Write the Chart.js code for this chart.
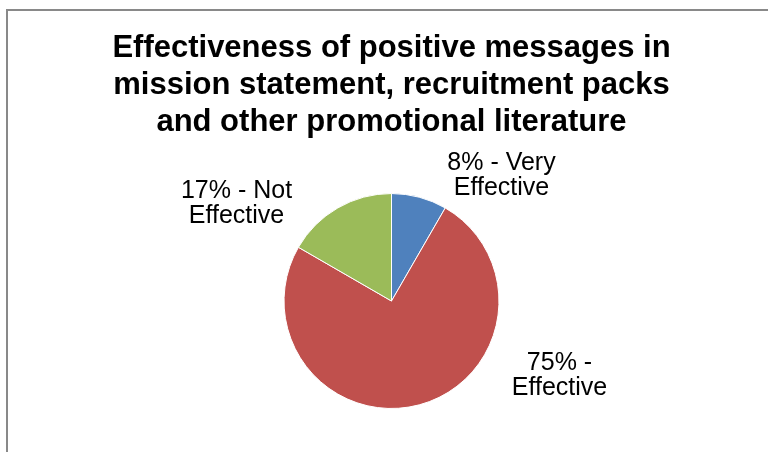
<!DOCTYPE html>
<html>
<head>
<meta charset="utf-8">
<script src="https://cdn.jsdelivr.net/npm/chart.js@4.4.1/dist/chart.umd.min.js"></script>
<style>
  html, body { margin: 0; padding: 0; background: #fff; overflow: hidden; }
  #wrap { position: relative; width: 768px; height: 452px; }
  #frame { position: absolute; left: 6px; top: 9px; width: 900px; height: 600px; border: 2px solid #898989; }
  #chart { position: absolute; left: 0; top: 0; }
</style>
</head>
<body>
<div id="wrap">
  <div id="frame"></div>
  <canvas id="chart" width="768" height="452"></canvas>
</div>
<script>
// data
const categories = ['Very Effective', 'Effective', 'Not Effective'];
const counts = [1, 9, 2];
const pctLabels = [['8% - Very', 'Effective'], ['75% -', 'Effective'], ['17% - Not', 'Effective']];
const sliceColors = ['#4F81BD', '#C0504D', '#9BBB59'];

const titleLines = [
    'Effectiveness of positive messages in',
    'mission statement, recruitment packs',
    'and other promotional literature'
];

// where each label block sits, relative to the pie centre
const labelShift = [[110, -125], [168, 75], [-155, -97]];

const outsideLabels = {
    id: 'outsideLabels',
    afterDatasetsDraw(chart) {
        const ctx = chart.ctx;
        const arcs = chart.getDatasetMeta(0).data;
        ctx.save();
        ctx.font = '25px "Liberation Sans", Arial, sans-serif';
        ctx.fillStyle = '#000';
        ctx.textAlign = 'center';
        ctx.textBaseline = 'middle';
        const lh = 25;
        arcs.forEach((arc, i) => {
            const cx = arc.x + labelShift[i][0];
            const cy = arc.y + labelShift[i][1];
            const lines = pctLabels[i];
            const y0 = cy - (lines.length - 1) * lh / 2;
            lines.forEach((t, j) => ctx.fillText(t, cx, y0 + j * lh));
        });
        ctx.restore();
    }
};

const ctx = document.getElementById('chart').getContext('2d');
new Chart(ctx, {
    type: 'pie',
    data: {
        labels: categories,
        datasets: [{
            data: counts,
            backgroundColor: sliceColors,
            borderColor: '#fff',
            borderWidth: 1,
            hoverBorderWidth: 1,
            hoverOffset: 0
        }]
    },
    options: {
        responsive: false,
        animation: false,
        events: [],
        layout: {
            padding: { top: 0, bottom: 43, left: 18, right: 3 }
        },
        plugins: {
            legend: { display: false },
            tooltip: { enabled: false },
            title: {
                display: true,
                text: titleLines,
                color: '#000',
                font: { family: '"Liberation Sans", Arial, sans-serif', size: 31, weight: 'bold', lineHeight: 1.194 },
                padding: { top: 30, bottom: 52 }
            }
        }
    },
    plugins: [outsideLabels]
});
</script>
</body>
</html>
